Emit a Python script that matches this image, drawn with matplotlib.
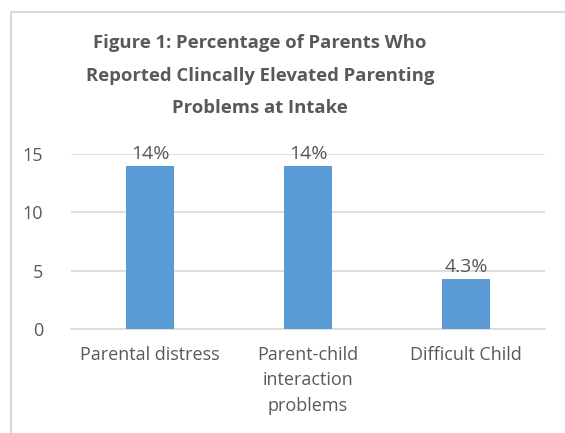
import matplotlib.pyplot as plt
from matplotlib.patches import Rectangle

# data
categories = ["Parental distress", "Parent-child\ninteraction\nproblems", "Difficult Child"]
values = [14, 14, 4.3]
value_labels = ["14%", "14%", "4.3%"]
yticks = [0, 5, 10, 15]

plt.rcParams["font.family"] = ["Open Sans", "DejaVu Sans"]
text_color = "#595959"
grid_color = "#D9D9D9"
bar_color = "#5B9BD5"

fig = plt.figure(figsize=(5.65, 4.33), dpi=100)

# chart border
fig.patches.append(Rectangle((11 / 565, -0.05), 1.0, 1 - 12 / 433 + 0.05,
                             transform=fig.transFigure, fill=False,
                             edgecolor=grid_color, linewidth=1.5))

ax = fig.add_axes([71 / 565, 1 - 329 / 433, 474 / 565, 175 / 433])
x = range(len(categories))
ax.bar(x, values, width=0.31, color=bar_color, zorder=3)

for xi, v, lab in zip(x, values, value_labels):
    ax.text(xi, v + 0.25, lab, ha="center", va="bottom", fontsize=14, color=text_color)

ax.set_xlim(-0.5, 2.5)
ax.set_ylim(0, 15)
ax.set_yticks(yticks)
ax.set_xticks(list(x))
ax.set_xticklabels(categories, fontsize=13, color=text_color, linespacing=1.55)
ax.tick_params(axis="y", labelsize=13, labelcolor=text_color, length=0, pad=20)
ax.tick_params(axis="x", length=0, pad=12)
ax.grid(axis="y", color=grid_color, linewidth=1.2, zorder=0)
for s in ["top", "right", "left"]:
    ax.spines[s].set_visible(False)
ax.spines["bottom"].set_color(grid_color)
ax.spines["bottom"].set_linewidth(1.2)

fig.text(260 / 565, 1 - 34 / 433,
         "Figure 1: Percentage of Parents Who\nReported Clincally Elevated Parenting\nProblems at Intake",
         ha="center", va="top", fontsize=13.3, fontweight="bold", color=text_color,
         linespacing=2.05)

fig.savefig("out.png", dpi=100)
